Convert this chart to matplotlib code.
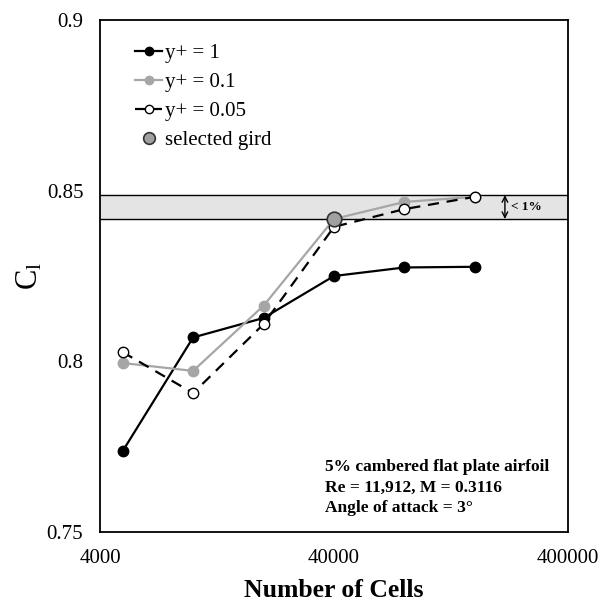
import matplotlib
matplotlib.use("Agg")
import matplotlib.pyplot as plt
from matplotlib.ticker import FixedLocator, NullLocator, FixedFormatter

plt.rcParams['font.family'] = ['Liberation Serif', 'DejaVu Serif']
plt.rcParams['mathtext.fontset'] = 'custom'
plt.rcParams['mathtext.rm'] = 'Liberation Serif'
plt.rcParams['mathtext.it'] = 'Liberation Serif:italic'

cells = [5000, 10000, 20000, 40000, 80000, 160000]
cl_yp1 = [0.7737, 0.8070, 0.8127, 0.8250, 0.8275, 0.8277]
cl_yp01 = [0.7995, 0.7972, 0.8163, 0.8417, 0.8467, 0.8482]
cl_yp005 = [0.8027, 0.7907, 0.8109, 0.8394, 0.8446, 0.8482]
selected_cells = [40000]
selected_cl = [0.8417]
band_low, band_high = 0.8417, 0.8487

xticks = [4000, 40000, 400000]
xticklabels = ['4000', '40000', '400000']
yticks = [0.75, 0.80, 0.85, 0.90]
yticklabels = ['0.75', '0.8', '0.85', '0.9']

fig = plt.figure(figsize=(6.10, 6.03), dpi=100)
ax = fig.add_axes([100/610, 1 - 532/603, 468/610, 512/603])

ax.axhspan(band_low, band_high, color='#e4e4e4', zorder=0)
ax.axhline(band_low, color='black', lw=1.0, zorder=1)
ax.axhline(band_high, color='black', lw=1.0, zorder=1)

ax.plot(cells, cl_yp1, '-o', color='black', lw=1.6, ms=7.5, label='y+ = 1', zorder=3)
ax.plot(cells, cl_yp01, '-o', color='#a6a6a6', lw=1.6, ms=7.5, label='y+ = 0.1', zorder=3)
ax.plot(cells, cl_yp005, '--o', color='black', lw=1.6, ms=7.5, mfc='white', mec='black',
        mew=1.0, dashes=(5, 3.5), label='y+ = 0.05', zorder=4)
ax.plot(selected_cells, selected_cl, 'o', ms=10.5, mfc='#a0a0a0', mec='#333333', mew=1.2,
        ls='none', label='selected gird', zorder=5)

ax.set_xscale('log')
ax.set_xlim(4000, 400000)
ax.set_ylim(0.75, 0.90)
ax.xaxis.set_major_locator(FixedLocator(xticks))
ax.xaxis.set_major_formatter(FixedFormatter(xticklabels))
ax.xaxis.set_minor_locator(NullLocator())
ax.set_yticks(yticks)
ax.set_yticklabels(yticklabels)
ax.tick_params(axis='both', length=0, labelsize=15, pad=12)
for s in ax.spines.values():
    s.set_linewidth(1.3)

ax.set_xlabel('Number of Cells', fontsize=18.5, fontweight='bold', labelpad=8)
ax.set_ylabel(r'$\mathrm{C_l}$', fontsize=22)
ax.yaxis.set_label_coords(-0.118, 0.5)

# <1% arrow
ax.annotate('', xy=(215000, band_high), xytext=(215000, band_low),
            arrowprops=dict(arrowstyle='<->', color='black', lw=1.0, shrinkA=0, shrinkB=0))
ax.text(228000, (band_low + band_high) / 2, '< 1%', fontsize=9.5, fontweight='bold',
        va='center', ha='left')

ax.text(0.48, 0.143, '5% cambered flat plate airfoil\nRe = 11,912, M = 0.3116\nAngle of attack = 3°',
        transform=ax.transAxes, fontsize=12.5, fontweight='bold', va='top', ha='left',
        linespacing=1.4)

leg = ax.legend(loc='upper left', frameon=False, fontsize=15, handlelength=1.3,
                handletextpad=0.15, labelspacing=0.45, markerscale=0.8,
                bbox_to_anchor=(0.035, 0.99))

fig.savefig('out.png', dpi=100)
